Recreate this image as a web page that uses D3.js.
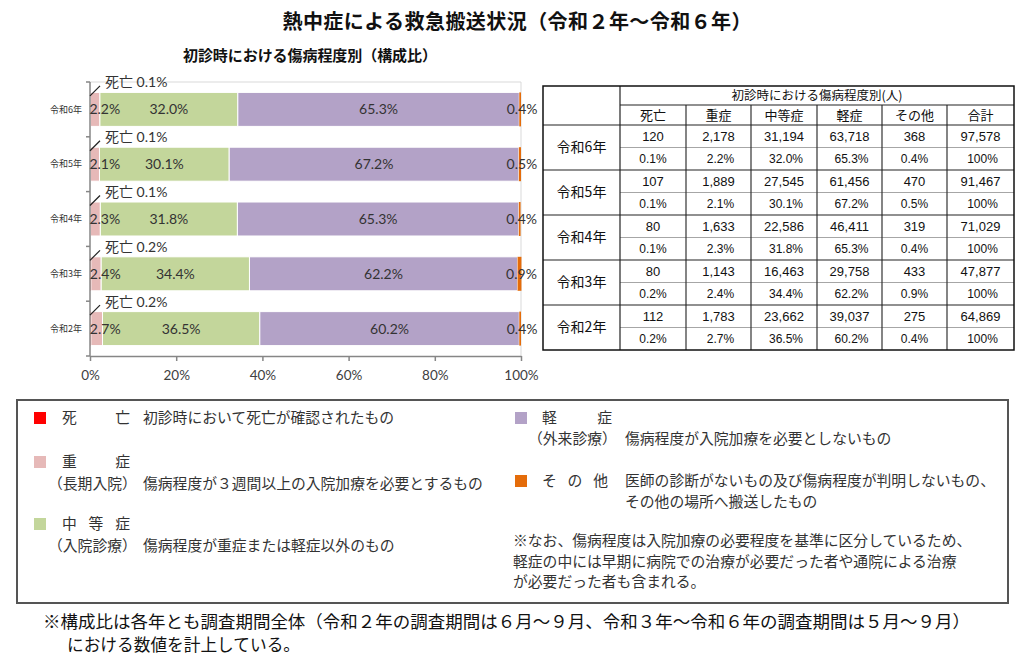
<!DOCTYPE html>
<html><head><meta charset="utf-8">
<script src="https://cdn.jsdelivr.net/npm/d3@7"></script>
<style>
body{margin:0;background:#fff;}
svg{display:block;}
</style></head><body>
<svg id="c" width="1024" height="666"></svg>
<script>
// ---------- data ----------
const years = ["令和6年","令和5年","令和4年","令和3年","令和2年"];
const categories = ["死亡","重症","中等症","軽症","その他"];
const colors = ["#FF0000","#E6B9B8","#C3D69B","#B3A2C7","#E46C0A"];
const death = [120,107,80,80,112];
const severe = [2178,1889,1633,1143,1783];
const moderate = [31194,27545,22586,16463,23662];
const mild = [63718,61456,46411,29758,39037];
const other = [368,470,319,433,275];
const total = [97578,91467,71029,47877,64869];
const pctDeath = [0.1,0.1,0.1,0.2,0.2];
const pctSevere = [2.2,2.1,2.3,2.4,2.7];
const pctModerate = [32.0,30.1,31.8,34.4,36.5];
const pctMild = [65.3,67.2,65.3,62.2,60.2];
const pctOther = [0.4,0.5,0.4,0.9,0.4];
const xTicks = [0,20,40,60,80,100];
const tableHeader = "初診時における傷病程度別(人)";
const tableCols = ["死亡","重症","中等症","軽症","その他","合計"];

const JP = "'Noto Sans CJK JP', sans-serif";
const LAT = "Lato, 'Noto Sans CJK JP', sans-serif";
const svg = d3.select("#c");

// ---------- titles ----------
svg.append("text").attr("x",517).attr("y",29).attr("text-anchor","middle")
  .attr("font-family",JP).attr("font-weight","bold").attr("font-size",20).attr("fill","#111")
  .attr("textLength",469).attr("lengthAdjust","spacing")
  .text("熱中症による救急搬送状況（令和２年～令和６年）");
svg.append("text").attr("x",310).attr("y",61).attr("text-anchor","middle")
  .attr("font-family",JP).attr("font-weight","bold").attr("font-size",15).attr("fill","#111")
  .attr("textLength",254).attr("lengthAdjust","spacing")
  .text("初診時における傷病程度別（構成比）");

// ---------- chart ----------
const pcts = [pctDeath,pctSevere,pctModerate,pctMild,pctOther];
const rows = years.map((y,i)=>{const o={year:y}; categories.forEach((c,k)=>o[c]=pcts[k][i]); return o;});
const stack = d3.stack().keys(categories)(rows);

const x = d3.scaleLinear().domain([0,100]).range([90,521]);
const y = d3.scaleBand().domain(years).range([82,356]).paddingInner(0.38).paddingOuter(0.19);
const yOuter = d3.scaleBand().domain(years).range([82,356]);

const g = svg.append("g");
g.append("line").attr("x1",x(0)).attr("x2",x(100)).attr("y1",82).attr("y2",82).attr("stroke","#D9D9D9");
g.append("line").attr("x1",x(100)).attr("x2",x(100)).attr("y1",82).attr("y2",356).attr("stroke","#D9D9D9");

stack.forEach((s,k)=>{
  g.append("g").selectAll("rect").data(s).join("rect")
    .attr("x",d=>x(d[0])).attr("width",d=>Math.max(0,x(d[1])-x(d[0])))
    .attr("y",d=>y(d.data.year)).attr("height",y.bandwidth())
    .attr("fill",colors[k])
    .attr("stroke",(k===0||k===4)?"none":"#fff").attr("stroke-width",1);
});

const xAxis = d3.axisBottom(x).tickValues(xTicks).tickFormat(d=>d+"%").tickSize(5).tickSizeOuter(0);
const gx = svg.append("g").attr("transform","translate(0,356)").call(xAxis);
gx.select(".domain").attr("stroke","#868686").attr("stroke-width",1.5);
gx.selectAll(".tick line").attr("stroke","#868686").attr("stroke-width",1.5);
gx.selectAll(".tick text").attr("font-family",LAT).attr("font-size",13.5).attr("fill","#404040").attr("dy","1.15em");

const gy = svg.append("g").attr("transform","translate(90,0)");
gy.append("line").attr("x1",0).attr("x2",0).attr("y1",82).attr("y2",356).attr("stroke","#868686").attr("stroke-width",1.5);
const bounds = years.map(v=>yOuter(v)).concat([356]);
gy.selectAll("line.tk").data(bounds).join("line").attr("class","tk")
  .attr("x1",-4).attr("x2",0).attr("y1",d=>d).attr("y2",d=>d).attr("stroke","#868686").attr("stroke-width",1.5);
gy.selectAll("text").data(years).join("text")
  .attr("x",-8).attr("y",v=>y(v)+y.bandwidth()/2).attr("dy","0.35em").attr("text-anchor","end")
  .attr("font-family",JP).attr("font-size",9).attr("fill","#333").text(v=>v);

const fmt1 = d3.format(".1f");
const lab = svg.append("g").attr("font-family",LAT).attr("font-size",14).attr("fill","#333");
lab.selectAll("text.sev").data(stack[1]).join("text").attr("class","sev")
  .attr("x",d=>x(d[0])-1).attr("y",d=>y(d.data.year)+y.bandwidth()/2).attr("dy","0.35em")
  .text(d=>fmt1(d.data["重症"])+"%");
[2,3].forEach(k=>{
  lab.append("g").selectAll("text").data(stack[k]).join("text")
    .attr("x",d=>(x(d[0])+x(d[1]))/2).attr("y",d=>y(d.data.year)+y.bandwidth()/2).attr("dy","0.35em")
    .attr("text-anchor","middle").text(d=>fmt1(d.data[categories[k]])+"%");
});
lab.append("g").selectAll("text").data(stack[4]).join("text")
  .attr("x",d=>(x(d[0])+x(d[1]))/2+2).attr("y",d=>y(d.data.year)+y.bandwidth()/2).attr("dy","0.35em")
  .attr("text-anchor","middle").text(d=>fmt1(d.data["その他"])+"%");
stack[0].forEach(d=>{
  const top = y(d.data.year);
  lab.append("line").attr("x1",x(d[0])).attr("y1",top+3.5).attr("x2",x(d[0])+10).attr("y2",top-6.5)
    .attr("stroke","#222").attr("stroke-width",1.2);
  lab.append("text").attr("x",x(d[0])+15).attr("y",top-10).attr("dy","0.35em")
    .text("死亡 "+fmt1(d.data["死亡"])+"%");
});

// ---------- table ----------
const tc = [543,620,686,751,817,882,947,1014];
const tTop=86, tH1=105, tH2=125, blk=45, tBot=tH2+blk*years.length;
const tg = svg.append("g");
const line=(x1,y1,x2,y2,c,w)=>tg.append("line").attr("x1",x1).attr("y1",y1).attr("x2",x2).attr("y2",y2).attr("stroke",c).attr("stroke-width",w);
years.forEach((v,i)=>{ line(tc[1],tH2+blk*i+blk/2,tc[7],tH2+blk*i+blk/2,"#A6A6A6",1); });
line(tc[1],tTop,tc[1],tBot,"#222",1.2);
for(let j=2;j<7;j++) line(tc[j],tH1,tc[j],tBot,"#333",1.2);
line(tc[1],tH1,tc[7],tH1,"#222",1.2);
for(let i=0;i<years.length;i++) line(tc[0],tH2+blk*i,tc[7],tH2+blk*i,"#222",1.2);
tg.append("rect").attr("x",tc[0]).attr("y",tTop).attr("width",tc[7]-tc[0]).attr("height",tBot-tTop)
  .attr("fill","none").attr("stroke","#111").attr("stroke-width",1.5);
tg.append("text").attr("x",(tc[1]+tc[7])/2).attr("y",(tTop+tH1)/2).attr("dy","0.35em").attr("text-anchor","middle")
  .attr("font-family",JP).attr("font-size",12.5).attr("fill","#111").text(tableHeader);
tg.selectAll("text.ch").data(tableCols).join("text").attr("class","ch")
  .attr("x",(d,j)=>(tc[j+1]+tc[j+2])/2).attr("y",(tH1+tH2)/2).attr("dy","0.35em").attr("text-anchor","middle")
  .attr("font-family",JP).attr("font-size",13).attr("fill","#111").text(d=>d);
const counts=[death,severe,moderate,mild,other,total];
const pctsT=[pctDeath,pctSevere,pctModerate,pctMild,pctOther];
const fmtN=d3.format(",");
years.forEach((v,i)=>{
  const bt=tH2+blk*i;
  tg.append("text").attr("x",(tc[0]+tc[1])/2).attr("y",bt+blk/2).attr("dy","0.35em").attr("text-anchor","middle")
    .attr("font-family",JP).attr("font-size",14).attr("fill","#111").text(v);
  counts.forEach((arr,j)=>{
    tg.append("text").attr("x",(tc[j+1]+tc[j+2])/2).attr("y",bt+11.5).attr("dy","0.35em").attr("text-anchor","middle")
      .attr("font-family","'Liberation Sans', sans-serif").attr("font-size",13).attr("fill","#111").text(fmtN(arr[i]));
    const pt = j<5 ? fmt1(pctsT[j][i])+"%" : "100%";
    tg.append("text").attr("x",(tc[j+1]+tc[j+2])/2+(j===0||j===4?0:2)).attr("y",bt+34).attr("dy","0.35em").attr("text-anchor","middle")
      .attr("font-family","'Liberation Sans', sans-serif").attr("font-size",12).attr("fill","#111").text(pt);
  });
});

// ---------- legend box ----------
const lg = svg.append("g").attr("font-family",JP).attr("font-size",14.8).attr("fill","#333");
lg.append("rect").attr("x",17).attr("y",400).attr("width",991).attr("height",203)
  .attr("fill","none").attr("stroke","#555").attr("stroke-width",2);
const sq=(xx,yy,c)=>lg.append("rect").attr("x",xx).attr("y",yy).attr("width",12).attr("height",12).attr("fill",c);
const tx=(xx,yy,t,len)=>{const e=lg.append("text").attr("x",xx).attr("y",yy).attr("dy","0.35em").attr("xml:space","preserve").text(t);
  if(len) e.attr("textLength",len).attr("lengthAdjust","spacing"); return e;};
sq(34,412,colors[0]); tx(62,418,"死　　亡",68); tx(143,418,"初診時において死亡が確認されたもの");
sq(34,456,colors[1]); tx(62,462,"重　　症",68); tx(48,484,"（長期入院）"); tx(143,484,"傷病程度が３週間以上の入院加療を必要とするもの");
sq(34,518,colors[2]); tx(62,524,"中 等 症",68); tx(48,546,"（入院診療）"); tx(143,546,"傷病程度が重症または軽症以外のもの");
sq(515,412,colors[3]); tx(542,418,"軽　　症",70); tx(528,439,"（外来診療）"); tx(625,439,"傷病程度が入院加療を必要としないもの");
sq(515,475,colors[4]); tx(542,481,"そ の 他",66); tx(625,481,"医師の診断がないもの及び傷病程度が判明しないもの、"); tx(625,502,"その他の場所へ搬送したもの");
tx(513,541,"※なお、傷病程度は入院加療の必要程度を基準に区分しているため、");
tx(513,562,"軽症の中には早期に病院での治療が必要だった者や通院による治療");
tx(513,582,"が必要だった者も含まれる。");

// ---------- footnote ----------
const fn = svg.append("g").attr("font-family",JP).attr("font-size",17).attr("fill","#111");
fn.append("text").attr("x",43).attr("y",622).attr("dy","0.35em").attr("textLength",927).attr("lengthAdjust","spacingAndGlyphs")
  .text("※構成比は各年とも調査期間全体（令和２年の調査期間は６月～９月、令和３年～令和６年の調査期間は５月～９月）");
fn.append("text").attr("x",67).attr("y",645).attr("dy","0.35em").attr("textLength",233).attr("lengthAdjust","spacingAndGlyphs")
  .text("における数値を計上している。");
</script>
</body></html>
